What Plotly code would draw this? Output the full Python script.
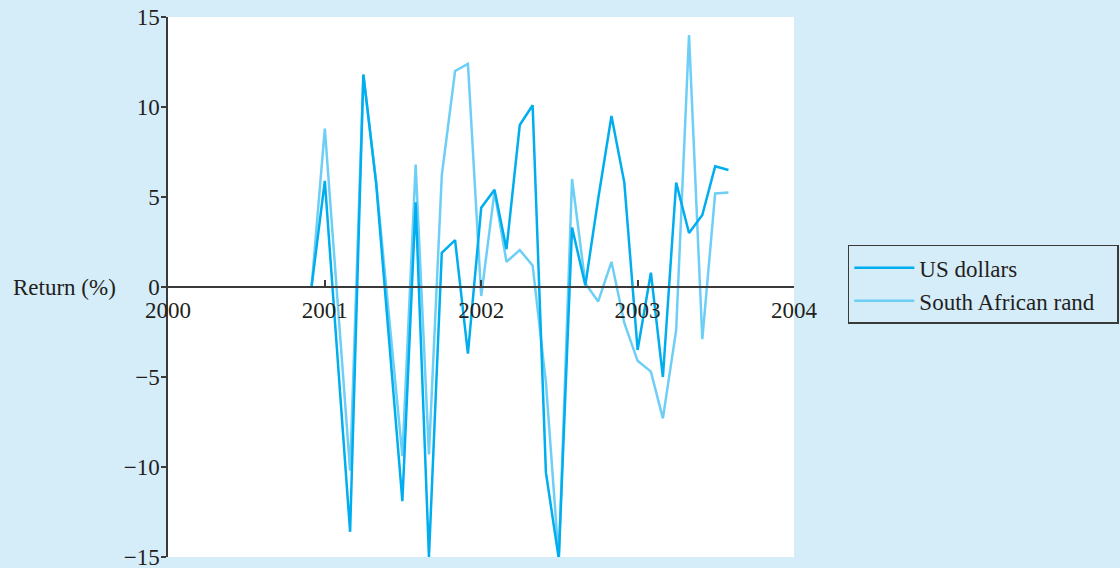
import plotly.graph_objects as go

dates = [
    "2000-12-01", "2001-01-01", "2001-03-01", "2001-04-01", "2001-05-01",
    "2001-07-01", "2001-08-01", "2001-09-01", "2001-10-01", "2001-11-01",
    "2001-12-01", "2002-01-01", "2002-02-01", "2002-03-01", "2002-04-01",
    "2002-05-01", "2002-06-01", "2002-07-01", "2002-08-01", "2002-09-01",
    "2002-10-01", "2002-11-01", "2002-12-01", "2003-01-01", "2003-02-01",
    "2003-03-01", "2003-04-01", "2003-05-01", "2003-06-01", "2003-07-01",
    "2003-08-01",
]
us_dollars = [
    0.0, 5.9, -13.6, 11.8, 5.7,
    -11.9, 4.7, -15.0, 1.9, 2.6,
    -3.7, 4.4, 5.4, 2.1, 9.0,
    10.1, -10.3, -15.1, 3.3, 0.1,
    4.9, 9.5, 5.8, -3.5, 0.8,
    -5.0, 5.8, 3.0, 4.0, 6.7,
    6.5,
]
sa_rand = [
    0.0, 8.8, -10.2, 11.8, 5.8,
    -9.4, 6.8, -9.3, 6.2, 12.0,
    12.4, -0.5, 5.3, 1.4, 2.05,
    1.2, -5.3, -15.1, 6.0, 0.2,
    -0.8, 1.4, -2.0, -4.1, -4.7,
    -7.3, -2.4, 14.0, -2.9, 5.2,
    5.25,
]
year_ticks = ["2000-01-01", "2001-01-01", "2002-01-01", "2003-01-01", "2004-01-01"]
year_labels = ["2000", "2001", "2002", "2003", "2004"]
y_ticks = [-15, -10, -5, 0, 5, 10, 15]

BG = "#d5ecf9"
AXIS = "#3a3a3a"
TXT = "#231f20"
FONT = "Liberation Serif"
FS = 23
PAD = "\u00a0" * 3

fig = go.Figure()
fig.add_trace(go.Scatter(x=dates, y=sa_rand, mode="lines", name="South African rand" + PAD,
                         line=dict(color="#6dcff6", width=2.5)))
fig.add_trace(go.Scatter(x=dates, y=us_dollars, mode="lines", name="US dollars",
                         line=dict(color="#00aeef", width=2.5)))

fig.update_layout(
    width=1120, height=568,
    paper_bgcolor=BG, plot_bgcolor="white",
    margin=dict(l=168, r=326, t=17, b=11, autoexpand=False),
    font=dict(family=FONT, size=FS, color=TXT),
    xaxis=dict(
        type="date", range=["2000-01-01", "2004-01-01"],
        tickvals=year_ticks, ticktext=year_labels,
        anchor="free", position=0.5, automargin=False,
        showline=True, linecolor=AXIS, linewidth=1.5,
        ticks="inside", ticklen=6, tickcolor=AXIS, tickwidth=1.5,
        showgrid=False, zeroline=False, ticklabelstandoff=3,
        tickfont=dict(family=FONT, size=FS, color=TXT),
    ),
    yaxis=dict(
        range=[-15, 15], tickvals=y_ticks, automargin=False,
        showline=True, linecolor=AXIS, linewidth=1.5,
        ticks="outside", ticklen=5, tickcolor=AXIS, tickwidth=1.5,
        showgrid=False, zeroline=False, ticklabeloverflow="allow",
        ticklabelstandoff=-3,
        tickfont=dict(family=FONT, size=FS, color=TXT),
    ),
    legend=dict(
        x=1.086, y=0.578, xanchor="left", yanchor="top",
        bgcolor=BG, bordercolor=AXIS, borderwidth=1.5,
        traceorder="reversed", itemwidth=60,
        font=dict(family=FONT, size=FS, color=TXT),
    ),
    showlegend=True,
)
fig.add_annotation(text="Return (%)", xref="paper", yref="y", x=-0.08, y=0,
                   xanchor="right", yanchor="middle", showarrow=False,
                   font=dict(family=FONT, size=FS, color=TXT))

fig.write_html(
    "out.html",
    config={"displayModeBar": False},
    post_script="document.body.style.margin='0';document.body.style.background='%s';" % BG,
)
